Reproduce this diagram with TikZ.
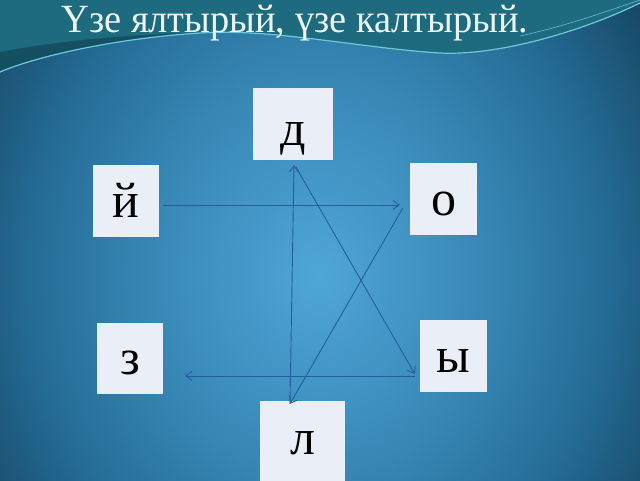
\documentclass[tikz,border=0pt]{standalone}
\usepackage{fontspec}
\setmainfont{Liberation Serif}
\usetikzlibrary{arrows.meta,calc}
\definecolor{bgC}{RGB}{78,166,216}
\definecolor{bgM}{RGB}{36,108,150}
\definecolor{bgO}{RGB}{22,70,98}
\definecolor{bgE}{RGB}{14,50,70}
\definecolor{bandc}{RGB}{30,106,126}
\definecolor{banddark}{RGB}{20,80,98}
\definecolor{wavec}{RGB}{110,200,220}
\definecolor{arrc}{RGB}{35,95,160}
\definecolor{boxc}{RGB}{234,238,246}
\definecolor{titlec}{RGB}{236,246,246}
\pgfdeclareradialshading{bgshade}{\pgfpoint{0bp}{0bp}}{color(0bp)=(bgC); color(10bp)=(bgC!50!bgM); color(18bp)=(bgM); color(25bp)=(bgO); color(32bp)=(bgE); color(50bp)=(bgE)}
\begin{document}
\begin{tikzpicture}[x=1pt,y=-1pt,
  letterbox/.style={fill=boxc, draw=none, inner sep=0pt, font=\fontsize{50}{50}\selectfont, text height=33pt, text depth=0pt},
  titletext/.style={text=titlec, inner sep=0pt, font=\fontsize{40}{40}\selectfont},
  link/.style={draw=arrc, line width=0.9pt, -{Straight Barb[length=6pt,width=9pt]}}]
\useasboundingbox (0,0) rectangle (640,480);
\begin{scope}
\clip (0,0) rectangle (640,480);
\shade[shading=bgshade] (318,275) ellipse (400 and 470);
\fill[bandc] (0,0) -- (640,0) -- (640,3) .. controls (585,30) and (500,56) .. (440,53) .. controls (360,48) and (270,28) .. (200,33) .. controls (120,38) and (40,55) .. (0,72) -- cycle;
\fill[banddark] (0,72) .. controls (40,55) and (120,38) .. (200,33) .. controls (120,34) and (40,44) .. (0,52) -- cycle;
\draw[wavec, line width=1.2pt] (0,72) .. controls (40,55) and (120,38) .. (200,33) .. controls (270,28) and (360,48) .. (440,53) .. controls (500,56) and (585,30) .. (640,3);
\draw[wavec!70!bandc, line width=0.8pt] (520,36) .. controls (570,25) and (610,10) .. (640,0);
\end{scope}
\node[titletext, anchor=base, xscale=0.96] (title) at (295,32) {Үзе ялтырый, үзе калтырый.};
\node[letterbox, minimum width=80pt, minimum height=72pt, text height=42pt] (d) at (293,124) {д};
\node[letterbox, minimum width=66pt, minimum height=72pt] (j) at (126,201) {й};
\node[letterbox, minimum width=67pt, minimum height=72pt] (o) at (443.5,199) {о};
\node[letterbox, minimum width=66pt, minimum height=71pt, text height=31pt] (z) at (130,358.5) {з};
\node[letterbox, minimum width=67pt, minimum height=72pt] (y) at (453.5,356) {ы};
\node[letterbox, minimum width=85pt, minimum height=80pt, text height=26pt] (l) at (302.5,441) {л};
\draw[link] ($(j.east)+(4,4)$) -- ($(o.west)+(-10,6)$);
\draw[link] ($(o.west)+(-7,9)$) -- ($(l.north)+(-12.5,3)$);
\draw[link] ($(l.north)+(-12.5,3)$) -- ($(d.south)+(1,5)$);
\draw[link] ($(d.south)+(3,7)$) -- ($(y.west)+(-5,18)$);
\draw[link] ($(y.west)+(-5,20)$) -- ($(z.east)+(22,17.5)$);
\end{tikzpicture}
\end{document}
